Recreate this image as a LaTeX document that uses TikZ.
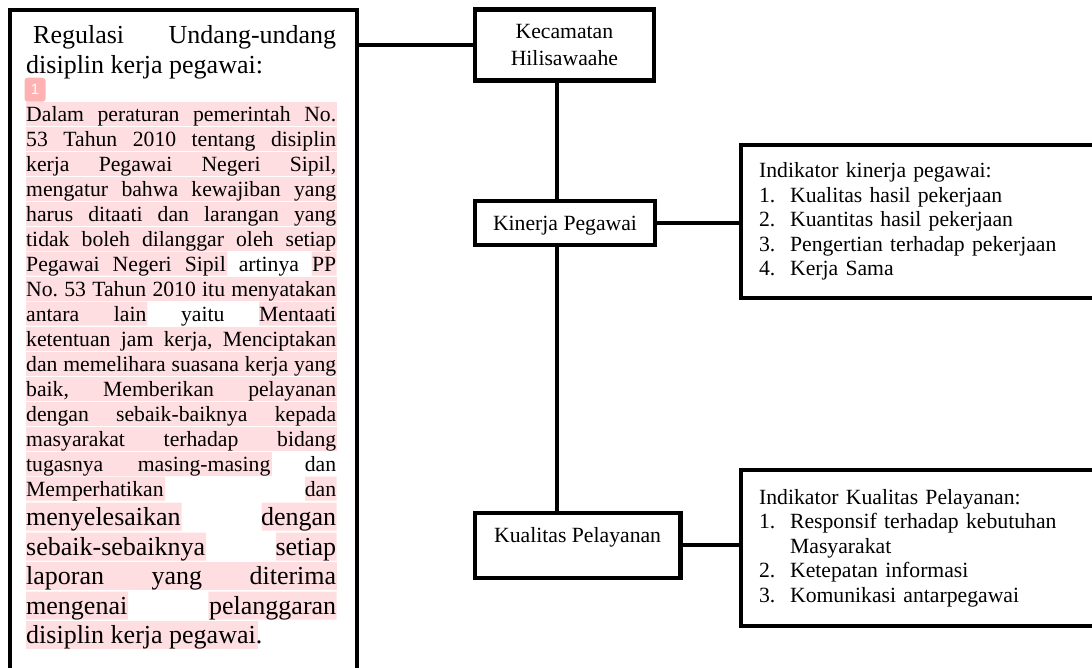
\documentclass[tikz,border=0pt]{standalone}
\usepackage{fontspec}
\setmainfont{Liberation Serif}
\setsansfont{Liberation Sans}
\definecolor{merahmuda}{RGB}{255,222,225}
\definecolor{penandamerah}{RGB}{255,178,178}
\frenchspacing
\def\hurufkecil{\fontsize{21.7}{25}\selectfont}
\def\hurufbesar{\fontsize{26}{29.5}\selectfont}
\def\isi#1{\makebox[310pt][s]{#1}}
\def\nomor#1{\makebox[31pt][l]{#1}}

\begin{document}
\begin{tikzpicture}[x=1pt,y=-1pt,
  kotak/.style={draw,line width=4.2pt,inner sep=0pt,font=\hurufkecil},
  garis/.style={line width=4.2pt},
  baris/.style={anchor=base west,inner sep=0pt,font=\hurufkecil},
  barisbesar/.style={anchor=base west,inner sep=0pt,font=\hurufbesar},
  sorot/.style={fill=merahmuda}]

	\useasboundingbox (0,0) rectangle (1092,667);
	\clip (0,0) rectangle (1092,667);

	% sorotan
	\foreach \yb in {121,146,171,196,221,246,296,346,371,396,421,446}
	    \fill[sorot] (26,{\yb-19.5}) rectangle (336.5,{\yb+4.5});
	\fill[sorot] (26,251.5) rectangle (227.3,275.5) (311.7,251.5) rectangle (336.5,275.5);
	\fill[sorot] (26,301.5) rectangle (147.3,325.5) (259,301.5) rectangle (336.5,325.5);
	\fill[sorot] (26,451.5) rectangle (271.7,475.5);
	\fill[sorot] (26,476.5) rectangle (165,500.5) (305,476.5) rectangle (336.5,500.5);
	\fill[sorot] (26,502.5) rectangle (181.7,530.5) (261.7,502.5) rectangle (336.5,530.5);
	\fill[sorot] (26,532.5) rectangle (206,560.5) (276,532.5) rectangle (336.5,560.5);
	\fill[sorot] (26,562) rectangle (336.5,590);
	\fill[sorot] (26,591.5) rectangle (128,619.5) (208.3,591.5) rectangle (336.5,619.5);
	\fill[sorot] (26,620.5) rectangle (258.3,648.5);

	\node[fill=penandamerah,rounded corners=3pt,minimum width=21pt,minimum height=24pt,
	      inner sep=0pt,text=white,font=\sffamily\fontsize{15}{15}\selectfont] (tanda) at (35,89.7) {1};

	\node[kotak,minimum width=347.2pt,minimum height=690pt,anchor=north west] (regulasi) at (7.5,7.5) {};

	\node[barisbesar] (judul1) at (26,43) {\isi{\hspace*{7pt}Regulasi Undang-undang}};
	\node[barisbesar] (judul2) at (26,73) {disiplin kerja pegawai:};

	\node[baris] (b1) at (26,121) {\isi{Dalam peraturan pemerintah No.}};
	\node[baris] (b2) at (26,146) {\isi{53 Tahun 2010 tentang disiplin}};
	\node[baris] (b3) at (26,171) {\isi{kerja Pegawai Negeri Sipil,}};
	\node[baris] (b4) at (26,196) {\isi{mengatur bahwa kewajiban yang}};
	\node[baris] (b5) at (26,221) {\isi{harus ditaati dan larangan yang}};
	\node[baris] (b6) at (26,246) {\isi{tidak boleh dilanggar oleh setiap}};
	\node[baris] (b7) at (26,271) {\isi{Pegawai Negeri Sipil artinya PP}};
	\node[baris] (b8) at (26,296) {\isi{No. 53 Tahun 2010 itu menyatakan}};
	\node[baris] (b9) at (26,321) {\isi{antara lain yaitu Mentaati}};
	\node[baris] (b10) at (26,346) {\isi{ketentuan jam kerja, Menciptakan}};
	\node[baris] (b11) at (26,371) {\isi{dan memelihara suasana kerja yang}};
	\node[baris] (b12) at (26,396) {\isi{baik, Memberikan pelayanan}};
	\node[baris] (b13) at (26,421) {\isi{dengan sebaik-baiknya kepada}};
	\node[baris] (b14) at (26,446) {\isi{masyarakat terhadap bidang}};
	\node[baris] (b15) at (26,471) {\isi{tugasnya masing-masing dan}};
	\node[baris] (b16) at (26,496) {\isi{Memperhatikan dan}};
	\node[barisbesar] (b17) at (26,525) {\isi{menyelesaikan dengan}};
	\node[barisbesar] (b18) at (26,555) {\isi{sebaik-sebaiknya setiap}};
	\node[barisbesar] (b19) at (26,584.5) {\isi{laporan yang diterima}};
	\node[barisbesar] (b20) at (26,614) {\isi{mengenai pelanggaran}};
	\node[barisbesar] (b21) at (26,643) {disiplin kerja pegawai.};

	\node[kotak,minimum width=179.3pt,minimum height=71pt,align=center] (kecamatan) at (564.4,45) {Kecamatan\\[2.4pt]Hilisawaahe};
	\node[kotak,minimum width=180.6pt,text height=29.6pt,text depth=14.7pt,anchor=north] (kinerja) at (565,198.7) {Kinerja Pegawai};
	\node[kotak,minimum width=205.8pt,text height=29.7pt,text depth=34.8pt,anchor=north] (kualitas) at (577.6,511) {Kualitas Pelayanan};

	\node[kotak,anchor=north west,inner xsep=18pt,text width=345pt,minimum height=153.5pt,align=left,
	      font=\fontsize{21.7}{24.5}\selectfont] (indikator1) at (739,142.5)
	      {Indikator kinerja pegawai:\\
	       \nomor{1.}Kualitas hasil pekerjaan\\
	       \nomor{2.}Kuantitas hasil pekerjaan\\
	       \nomor{3.}Pengertian terhadap pekerjaan\\
	       \nomor{4.}Kerja Sama};
	\node[kotak,anchor=north west,inner xsep=18pt,text width=345pt,minimum height=155.5pt,align=left,
	      font=\fontsize{21.7}{24.5}\selectfont] (indikator2) at (739,468)
	      {Indikator Kualitas Pelayanan:\\
	       \nomor{1.}Responsif terhadap kebutuhan\\
	       \nomor{}Masyarakat\\
	       \nomor{2.}Ketepatan informasi\\
	       \nomor{3.}Komunikasi antarpegawai};

	\coordinate (tulang) at (557,0);

	\draw[garis] (regulasi.east |- kecamatan.west) -- (kecamatan.west);
	\draw[garis] (kecamatan.south -| tulang) -- (kinerja.north -| tulang);
	\draw[garis] (kinerja.south -| tulang) -- (kualitas.north -| tulang);
	\draw[garis] (kinerja.east) -- (kinerja.east -| indikator1.west);
	\draw[garis] (kualitas.east) -- (kualitas.east -| indikator2.west);

\end{tikzpicture}
\end{document}
